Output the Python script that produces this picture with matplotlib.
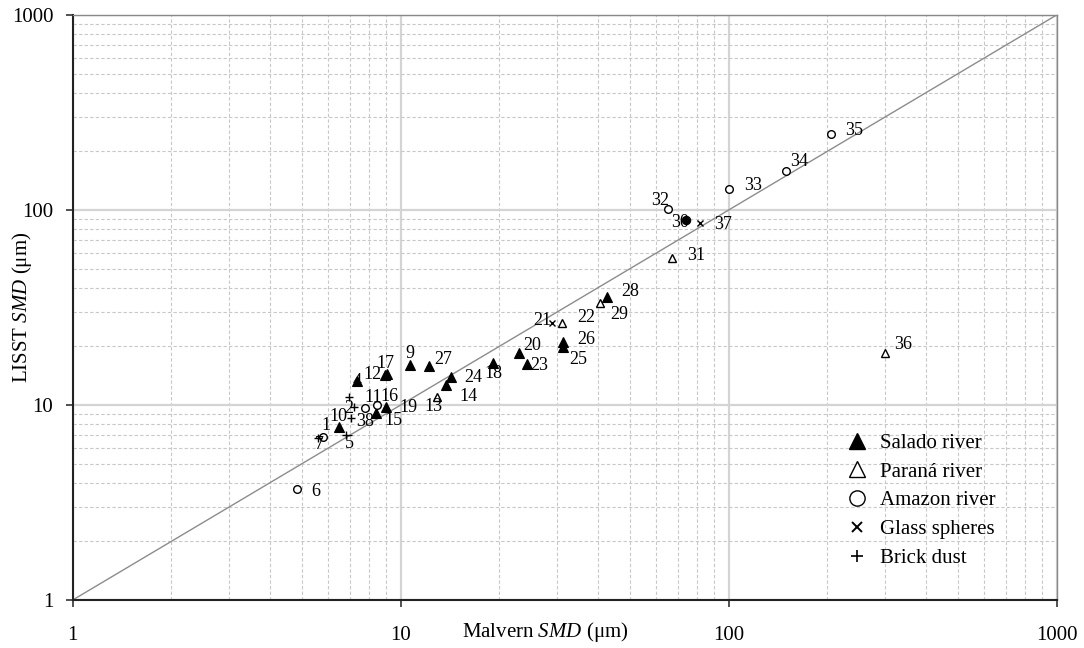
#!/usr/bin/env python3
"""LISST vs Malvern Sauter mean diameter, log-log scatter with 1:1 line."""

import matplotlib

matplotlib.use("Agg")

import matplotlib.pyplot as plt
from matplotlib.lines import Line2D
from matplotlib.ticker import LogLocator, NullFormatter

plt.rcParams["font.family"] = ["Liberation Serif", "DejaVu Serif"]
plt.rcParams["mathtext.fontset"] = "custom"
plt.rcParams["mathtext.rm"] = "Liberation Serif"
plt.rcParams["mathtext.it"] = "Liberation Serif:italic"

# --- data (Malvern SMD, LISST SMD, in um) ---
salado_id = [4, 9, 10, 12, 14, 15, 17, 18, 19, 20, 23, 24, 25, 26, 27, 28]
salado_x = [7.38, 10.7, 6.50, 8.95, 13.7, 8.41, 9.1, 19.1, 9.0, 22.9, 24.2, 14.2, 31.3, 31.3, 12.2, 42.5]
salado_y = [13.3, 16.0, 7.74, 14.3, 12.7, 9.13, 14.5, 16.5, 9.73, 18.5, 16.2, 13.9, 19.9, 21.1, 15.9, 35.9]

parana_id = [13, 22, 29, 31, 36]
parana_x = [12.9, 31.1, 40.5, 67.0, 299.6]
parana_y = [10.95, 26.4, 33.5, 56.6, 18.5]

amazon_id = [1, 6, 11, 16, 32, 33, 34, 35]
amazon_x = [5.78, 4.83, 7.79, 8.45, 65.4, 100.4, 149.2, 204.7]
amazon_y = [6.88, 3.71, 9.62, 9.95, 100.8, 128.2, 158.5, 244.5]

# point 30 is drawn as a filled circle
amazon_fill_id = [30]
amazon_fill_x = [74.1]
amazon_fill_y = [88.9]

glass_id = [21, 37]
glass_x = [28.9, 81.8]
glass_y = [26.2, 86.1]

brick_id = [2, 3, 5, 7, 8]
brick_x = [6.96, 7.2, 6.81, 5.6, 7.04]
brick_y = [10.95, 9.73, 7.02, 6.75, 8.55]

line_1to1 = [1, 1000]
tick_values = [1, 10, 100, 1000]
tick_labels = ["1", "10", "100", "1000"]

# label offsets from the marker, in pixels (right, up)
label_offset = {
    1: (3, 11), 2: (0, -11), 3: (7, -14), 4: (0, -1), 5: (3, -9), 6: (19, -3),
    7: (1, -6), 8: (18, -3), 9: (0, 12), 10: (-1, 10), 11: (8, 11),
    12: (-12, 0), 13: (-4, -9), 14: (23, -12), 15: (17, -8), 16: (13, 9),
    17: (-2, 10), 18: (1, -11), 19: (23, 0), 20: (13, 7), 21: (-10, 3),
    22: (24, 5), 23: (13, -1), 24: (23, 0), 25: (15, -13), 26: (23, 2),
    27: (14, 6), 28: (23, 5), 29: (19, -12), 30: (-6, -3), 31: (25, 3),
    32: (-8, 9), 33: (24, 3), 34: (13, 9), 35: (23, 4), 36: (18, 8),
    37: (23, -2),
}

fig = plt.figure(figsize=(10.84, 6.48), dpi=100)
ax = fig.add_axes([0.0671, 0.0741, 0.9077, 0.9028])

ax.set_xscale("log")
ax.set_yscale("log")
ax.set_xlim(1, 1000)
ax.set_ylim(1, 1000)

ax.plot(line_1to1, line_1to1, color="#8c8c8c", lw=1.0, zorder=2)

common = dict(ls="none", color="black", zorder=4)
ax.plot(salado_x, salado_y, marker="^", ms=6.5, mew=0.8, **common)
ax.plot(parana_x, parana_y, marker="^", ms=6, mfc="white", mew=1.0, **common)
ax.plot(amazon_x, amazon_y, marker="o", ms=5.5, mfc="white", mew=1.0, **common)
ax.plot(amazon_fill_x, amazon_fill_y, marker="o", ms=6, mew=0.8, **common)
ax.plot(glass_x, glass_y, marker="x", ms=5, mew=1.0, **common)
ax.plot(brick_x, brick_y, marker="+", ms=6, mew=1.0, **common)

for ids, xs, ys in [
    (salado_id, salado_x, salado_y),
    (parana_id, parana_x, parana_y),
    (amazon_id, amazon_x, amazon_y),
    (amazon_fill_id, amazon_fill_x, amazon_fill_y),
    (glass_id, glass_x, glass_y),
    (brick_id, brick_x, brick_y),
]:
    for pid, x, y in zip(ids, xs, ys):
        dx, dy = label_offset.get(pid, (12, 0))
        ax.annotate(str(pid), (x, y), xytext=(dx, dy), textcoords="offset pixels",
                    ha="center", va="center", fontsize=13, zorder=5)

# grid
ax.xaxis.set_minor_locator(LogLocator(base=10, subs=range(2, 10)))
ax.yaxis.set_minor_locator(LogLocator(base=10, subs=range(2, 10)))
ax.xaxis.set_minor_formatter(NullFormatter())
ax.yaxis.set_minor_formatter(NullFormatter())
ax.grid(True, which="major", color="#d4d4d4", lw=1.6, ls="-", zorder=0)
ax.grid(True, which="minor", color="#c8c8c8", lw=0.8, ls=(0, (3, 2)), zorder=0)
ax.set_axisbelow(True)

ax.set_xticks(tick_values)
ax.set_xticklabels(tick_labels)
ax.set_yticks(tick_values)
ax.set_yticklabels(tick_labels)
ax.tick_params(which="major", direction="out", length=5, width=1.2,
               labelsize=15, color="#333333")
ax.tick_params(axis="x", pad=14)
ax.tick_params(axis="y", pad=9)
ax.tick_params(which="minor", length=0)

for side in ("left", "bottom"):
    ax.spines[side].set_color("#222222")
    ax.spines[side].set_linewidth(1.5)
for side in ("top", "right"):
    ax.spines[side].set_color("#888888")
    ax.spines[side].set_linewidth(1.0)

ax.set_xlabel(r"Malvern $\mathit{SMD}$ (μm)", fontsize=15)
ax.xaxis.label.set_va("center")
ax.xaxis.set_label_coords(0.48, -0.0547)
ax.set_ylabel(r"LISST $\mathit{SMD}$ (μm)", fontsize=15)
ax.yaxis.label.set_va("center")
ax.yaxis.set_label_coords(-0.0515, 0.5)

handles = [
    Line2D([], [], ls="none", marker="^", ms=12, color="black"),
    Line2D([], [], ls="none", marker="^", ms=12, mfc="white", mec="black", mew=1.0),
    Line2D([], [], ls="none", marker="o", ms=11, mfc="white", mec="black", mew=1.0),
    Line2D([], [], ls="none", marker="x", ms=7, color="black", mew=1.4),
    Line2D([], [], ls="none", marker="+", ms=9, color="black", mew=1.2),
]
names = ["Salado river", "Paraná river", "Amazon river", "Glass spheres", "Brick dust"]
ax.legend(handles, names, loc="upper left", bbox_to_anchor=(0.77, 0.31),
          frameon=False, fontsize=15, handlelength=1.2, handletextpad=0.5,
          labelspacing=0.44, borderpad=0.2)

fig.savefig("out.png", dpi=100)
